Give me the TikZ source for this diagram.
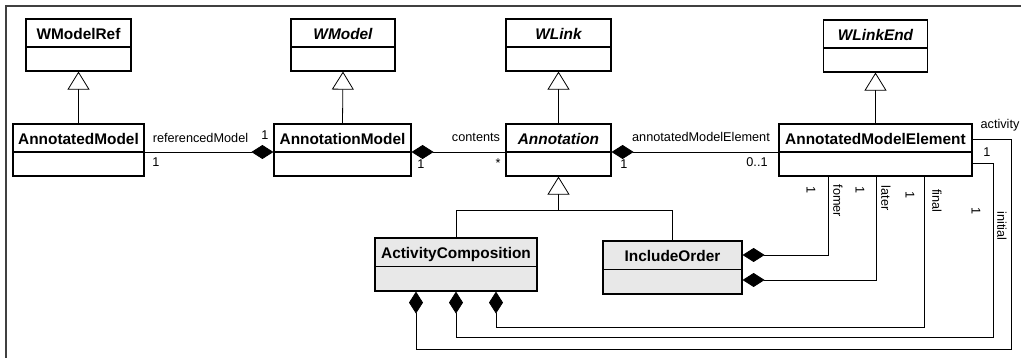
\documentclass[tikz,border=0pt]{standalone}
\usepackage{fontspec}
\setmainfont{Liberation Sans}
\usetikzlibrary{arrows.meta}
\definecolor{boxgray}{RGB}{232,232,232}
\begin{document}
\begin{tikzpicture}[x=1pt,y=-1pt,
  classbox/.style={draw, line width=1.2pt, inner sep=0pt, minimum height=52pt},
  divline/.style={line width=1.2pt},
  ctitle/.style={font=\fontsize{15.4}{18}\selectfont\bfseries, inner sep=0pt, anchor=base},
  ictitle/.style={font=\fontsize{15.4}{18}\selectfont\bfseries\itshape, inner sep=0pt, anchor=base},
  lbl/.style={font=\fontsize{12.7}{15}\selectfont, inner sep=0pt, anchor=base},
  rlbl/.style={font=\fontsize{12.7}{15}\selectfont, inner sep=0pt, rotate=-90},
  conn/.style={line width=0.8pt},
  comp/.style={conn, {Diamond[length=22pt,width=14pt]}-},
  gen/.style={conn, -{Triangle[open,length=18pt,width=22pt,fill=white]}},
  framel/.style={line width=2.2pt, black!75}
]
\useasboundingbox (0,0) rectangle (1021,358);
% frame
\draw[framel] (6,358) -- (6,6) -- (1021,6);

% classes (top row)
\node[classbox, minimum width=105pt] (wmodelref) at (78.5,45) {};
\draw[divline] ([yshift=-2pt]wmodelref.west) -- ([yshift=-2pt]wmodelref.east);
\node[ctitle] (wmodelref-t) at ([yshift=5.5pt]wmodelref.center) {WModelRef};

\node[classbox, minimum width=104pt] (wmodel) at (343,45) {};
\draw[divline] ([yshift=-2pt]wmodel.west) -- ([yshift=-2pt]wmodel.east);
\node[ictitle] (wmodel-t) at ([yshift=5.5pt]wmodel.center) {WModel};

\node[classbox, minimum width=105pt] (wlink) at (558.5,45) {};
\draw[divline] ([yshift=-2pt]wlink.west) -- ([yshift=-2pt]wlink.east);
\node[ictitle] (wlink-t) at ([yshift=5.5pt]wlink.center) {WLink};

\node[classbox, minimum width=104pt] (wlinkend) at (875.5,46) {};
\draw[divline] ([yshift=-2pt]wlinkend.west) -- ([yshift=-2pt]wlinkend.east);
\node[ictitle] (wlinkend-t) at ([yshift=5.5pt]wlinkend.center) {WLinkEnd};

% classes (middle row)
\node[classbox, minimum width=131pt] (amodel) at (78.5,150) {};
\draw[divline] ([yshift=-2pt]amodel.west) -- ([yshift=-2pt]amodel.east);
\node[ctitle] (amodel-t) at ([yshift=5.5pt]amodel.center) {AnnotatedModel};

\node[classbox, minimum width=137pt] (anmodel) at (342.5,150) {};
\draw[divline] ([yshift=-2pt]anmodel.west) -- ([yshift=-2pt]anmodel.east);
\node[ctitle] (anmodel-t) at ([yshift=5.5pt]anmodel.center) {AnnotationModel};

\node[classbox, minimum width=105pt] (annot) at (558.5,150) {};
\draw[divline] ([yshift=-2pt]annot.west) -- ([yshift=-2pt]annot.east);
\node[ictitle] (annot-t) at ([yshift=5.5pt]annot.center) {Annotation};

\node[classbox, minimum width=193pt] (ame) at (875.5,150) {};
\draw[divline] ([yshift=-2pt]ame.west) -- ([yshift=-2pt]ame.east);
\node[ctitle] (ame-t) at ([yshift=5.5pt]ame.center) {AnnotatedModelElement};

% classes (bottom row)
\node[classbox, fill=boxgray, minimum width=162pt, minimum height=53pt] (actc) at (456,264.5) {};
\draw[divline] ([yshift=-2pt]actc.west) -- ([yshift=-2pt]actc.east);
\node[ctitle] (actc-t) at ([yshift=6pt]actc.center) {ActivityComposition};

\node[classbox, fill=boxgray, minimum width=139pt, minimum height=53pt] (incl) at (672.5,267.5) {};
\draw[divline] ([yshift=-2pt]incl.west) -- ([yshift=-2pt]incl.east);
\node[ctitle] (incl-t) at ([yshift=6pt]incl.center) {IncludeOrder};

% generalizations
\draw[gen] (amodel.north) -- (wmodelref.south);
\draw[gen] (anmodel.north) -- (wmodel.south);
\draw[gen] (annot.north) -- (wlink.south);
\draw[gen] (ame.north) -- (wlinkend.south);
\coordinate (genjoin) at (558.5,210);
\draw[conn] (actc.north) |- (genjoin);
\draw[conn] (incl.north) |- (genjoin);
\draw[gen] (genjoin) -- (annot.south);

% compositions (middle row)
\draw[comp] ([yshift=-2pt]anmodel.west) -- ([yshift=-2pt]amodel.east);
\node[lbl] (l-ref) at (200.5,142.5) {referencedModel};
\node[lbl] (l-ref1) at (265,140) {1};
\node[lbl] (l-ref2) at (156,167) {1};

\draw[comp] ([yshift=-2pt]anmodel.east) -- ([yshift=-2pt]annot.west);
\node[lbl] (l-cont) at (476,141.5) {contents};
\node[lbl] (l-cont1) at (421,169) {1};
\node[lbl] (l-cont2) at (498,168) {*};

\draw[comp] ([yshift=-2pt]annot.east) -- ([yshift=-2pt]ame.west);
\node[lbl] (l-ame) at (701,142) {annotatedModelElement};
\node[lbl] (l-ame1) at (624,169) {1};
\node[lbl] (l-ame2) at (757,167) {0..1};

% compositions from IncludeOrder
\draw[comp] ([yshift=12.5pt]incl.east) -| ([xshift=-47.5pt]ame.south);
\node[rlbl] (l-fom1) at (811,190) {1};
\node[rlbl] (l-fom) at (838,201) {fomer};
\draw[comp] ([yshift=-12.5pt]incl.east) -| ([xshift=0.5pt]ame.south);
\node[rlbl] (l-lat1) at (860,190) {1};
\node[rlbl] (l-lat) at (886,198) {later};

% compositions from ActivityComposition
\coordinate (actcorner) at (1011,349);
\draw[comp] ([xshift=-40pt]actc.south) |- (actcorner) |- ([yshift=11pt]ame.east);
\node[lbl] (l-act) at (1000,129) {activity};
\node[lbl] (l-act1) at (987,157) {1};

\coordinate (inicorner) at (993,337);
\draw[comp] (actc.south) |- (inicorner) |- ([yshift=-13pt]ame.east);
\node[rlbl] (l-ini1) at (976,211) {1};
\node[rlbl] (l-ini) at (1002,226) {initial};

\coordinate (fincorner) at (924,327);
\draw[comp] ([xshift=40pt]actc.south) |- (fincorner) -- ([xshift=48.5pt]ame.south);
\node[rlbl] (l-fin1) at (910,195) {1};
\node[rlbl] (l-fin) at (937,201) {final};
\end{tikzpicture}
\end{document}
